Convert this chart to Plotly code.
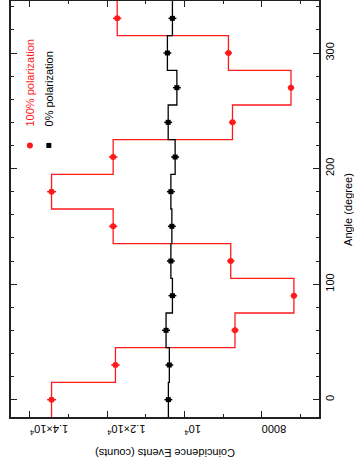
import plotly.graph_objects as go

angles = [0, 30, 60, 90, 120, 150, 180, 210, 240, 270, 300, 330]
pol100 = [13440, 11785, 8690, 7165, 8800, 11845, 13440, 11845, 8755, 7240, 8860, 11740]
pol0 = [10415, 10390, 10475, 10310, 10350, 10325, 10350, 10240, 10420, 10195, 10440, 10310]
err100 = [116, 109, 93, 85, 94, 109, 116, 109, 94, 85, 94, 108]
err0 = [102, 102, 102, 102, 102, 102, 102, 102, 102, 101, 102, 102]
bin_half = 15
xtick_vals = [8000, 10000, 12000, 14000]
xtick_text = ["8000", "10<sup>4</sup>", "1.2×10<sup>4</sup>", "1.4×10<sup>4</sup>"]
ytick_vals = [0, 100, 200, 300]

RED = "#ff1a1a"
BLACK = "#000000"
FONT = "Liberation Sans, Arial, sans-serif"


def steps(vals):
    xs, ys = [], []
    for a, v in zip(angles, vals):
        xs += [v, v]
        ys += [a - bin_half, a + bin_half]
    return xs, ys


fig = go.Figure()
for vals, errs, color, sym in [(pol100, err100, RED, "circle"), (pol0, err0, BLACK, "square")]:
    sx, sy = steps(vals)
    fig.add_trace(go.Scatter(x=sx, y=sy, mode="lines", line=dict(color=color, width=1.3),
                             showlegend=False, hoverinfo="skip"))
    fig.add_trace(go.Scatter(x=vals, y=angles, mode="markers",
                             marker=dict(color=color, symbol=sym, size=6 if sym == "circle" else 5),
                             error_x=dict(type="data", array=errs, color=color, thickness=1.5, width=0),
                             showlegend=False))

# legend symbols
fig.add_trace(go.Scatter(x=[14000], y=[220], mode="markers",
                         marker=dict(color=RED, symbol="circle", size=6), showlegend=False))
fig.add_trace(go.Scatter(x=[13510], y=[220], mode="markers",
                         marker=dict(color=BLACK, symbol="square", size=5), showlegend=False))

fig.add_annotation(x=14000, y=235, text="100% polarization", textangle=-90, showarrow=False,
                   xanchor="center", yanchor="bottom", font=dict(color=RED, size=11, family=FONT))
fig.add_annotation(x=13510, y=235, text="0% polarization", textangle=-90, showarrow=False,
                   xanchor="center", yanchor="bottom", font=dict(color=BLACK, size=11, family=FONT))

fig.add_annotation(xref="paper", yref="paper", x=0.5, y=-0.087, text="Coincidence Events (counts)",
                   textangle=180, showarrow=False, xanchor="center", yanchor="middle",
                   font=dict(color=BLACK, size=11, family=FONT))
fig.add_annotation(xref="paper", yref="paper", x=1.094, y=0.5, text="Angle (degree)",
                   textangle=-90, showarrow=False, xanchor="center", yanchor="middle",
                   font=dict(color=BLACK, size=11, family=FONT))

fig.update_layout(
    width=354, height=461,
    margin=dict(l=11, r=35, t=1, b=44),
    paper_bgcolor="white", plot_bgcolor="white",
    font=dict(family=FONT, size=11, color=BLACK),
    xaxis=dict(range=[14490, 6515], tickvals=xtick_vals, ticktext=xtick_text, tickangle=180,
               automargin=False, ticklabelstandoff=4,
               showgrid=False, zeroline=False, showline=True, linecolor="#222", linewidth=1.5,
               mirror="ticks", ticks="inside", ticklen=6, tickcolor="#222", tickwidth=1.2,
               minor=dict(dtick=1000, ticks="inside", ticklen=3, tickcolor="#222", showgrid=False),
               tickfont=dict(size=11)),
    yaxis=dict(range=[-15, 345], side="right", tickvals=ytick_vals, tickangle=-90,
               automargin=False,
               showgrid=False, zeroline=False, showline=True, linecolor="#222", linewidth=1.5,
               mirror="ticks", ticks="inside", ticklen=6, tickcolor="#222", tickwidth=1.2,
               minor=dict(dtick=20, ticks="inside", ticklen=3, tickcolor="#222", showgrid=False),
               tickfont=dict(size=11)),
)

fig.write_html("out.html", config={"displayModeBar": False},
               post_script="document.body.style.margin='0';")
